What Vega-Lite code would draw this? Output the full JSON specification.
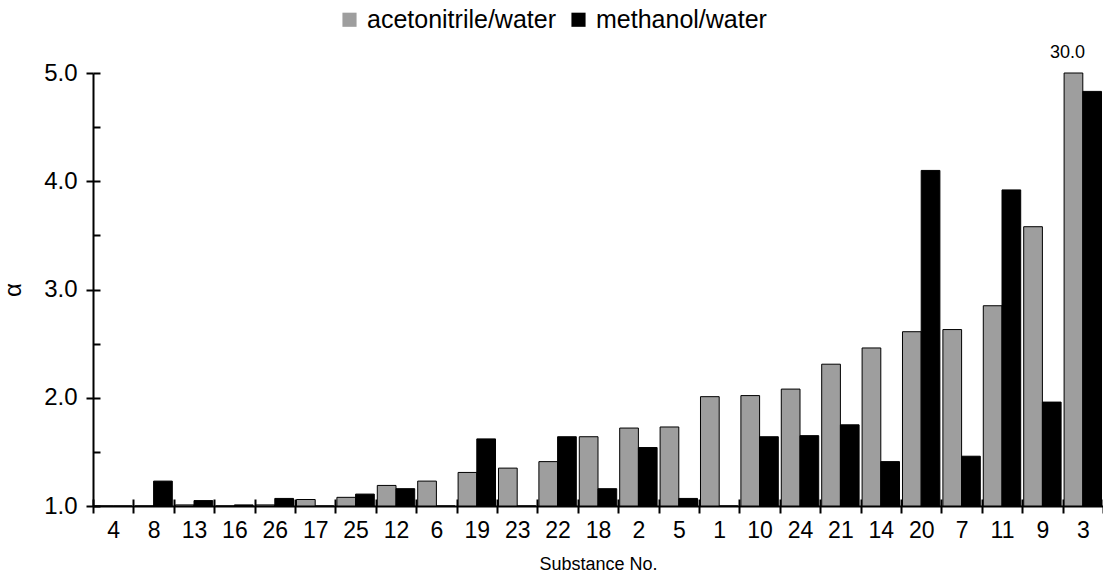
{
  "$schema": "https://vega.github.io/schema/vega-lite/v6.json",
  "width": 1010,
  "height": 433,
  "autosize": {"type": "none"},
  "padding": {"left": 93, "top": 73, "right": 0, "bottom": 76},
  "background": "white",
  "config": {
    "view": {"stroke": null},
    "font": "Liberation Sans",
    "axis": {"domainColor": "black", "tickColor": "black", "labelColor": "black", "titleColor": "black", "grid": false}
  },
  "data": {
    "values": [
      {"no": "4", "series": "acetonitrile/water", "alpha": 1.0},
      {"no": "4", "series": "methanol/water", "alpha": 1.0},
      {"no": "8", "series": "acetonitrile/water", "alpha": 1.0},
      {"no": "8", "series": "methanol/water", "alpha": 1.23},
      {"no": "13", "series": "acetonitrile/water", "alpha": 1.01},
      {"no": "13", "series": "methanol/water", "alpha": 1.05},
      {"no": "16", "series": "acetonitrile/water", "alpha": 1.0},
      {"no": "16", "series": "methanol/water", "alpha": 1.01},
      {"no": "26", "series": "acetonitrile/water", "alpha": 1.01},
      {"no": "26", "series": "methanol/water", "alpha": 1.07},
      {"no": "17", "series": "acetonitrile/water", "alpha": 1.06},
      {"no": "17", "series": "methanol/water", "alpha": 1.0},
      {"no": "25", "series": "acetonitrile/water", "alpha": 1.08},
      {"no": "25", "series": "methanol/water", "alpha": 1.11},
      {"no": "12", "series": "acetonitrile/water", "alpha": 1.19},
      {"no": "12", "series": "methanol/water", "alpha": 1.16},
      {"no": "6", "series": "acetonitrile/water", "alpha": 1.23},
      {"no": "6", "series": "methanol/water", "alpha": 1.0},
      {"no": "19", "series": "acetonitrile/water", "alpha": 1.31},
      {"no": "19", "series": "methanol/water", "alpha": 1.62},
      {"no": "23", "series": "acetonitrile/water", "alpha": 1.35},
      {"no": "23", "series": "methanol/water", "alpha": 1.0},
      {"no": "22", "series": "acetonitrile/water", "alpha": 1.41},
      {"no": "22", "series": "methanol/water", "alpha": 1.64},
      {"no": "18", "series": "acetonitrile/water", "alpha": 1.64},
      {"no": "18", "series": "methanol/water", "alpha": 1.16},
      {"no": "2", "series": "acetonitrile/water", "alpha": 1.72},
      {"no": "2", "series": "methanol/water", "alpha": 1.54},
      {"no": "5", "series": "acetonitrile/water", "alpha": 1.73},
      {"no": "5", "series": "methanol/water", "alpha": 1.07},
      {"no": "1", "series": "acetonitrile/water", "alpha": 2.01},
      {"no": "1", "series": "methanol/water", "alpha": 1.0},
      {"no": "10", "series": "acetonitrile/water", "alpha": 2.02},
      {"no": "10", "series": "methanol/water", "alpha": 1.64},
      {"no": "24", "series": "acetonitrile/water", "alpha": 2.08},
      {"no": "24", "series": "methanol/water", "alpha": 1.65},
      {"no": "21", "series": "acetonitrile/water", "alpha": 2.31},
      {"no": "21", "series": "methanol/water", "alpha": 1.75},
      {"no": "14", "series": "acetonitrile/water", "alpha": 2.46},
      {"no": "14", "series": "methanol/water", "alpha": 1.41},
      {"no": "20", "series": "acetonitrile/water", "alpha": 2.61},
      {"no": "20", "series": "methanol/water", "alpha": 4.1},
      {"no": "7", "series": "acetonitrile/water", "alpha": 2.63},
      {"no": "7", "series": "methanol/water", "alpha": 1.46},
      {"no": "11", "series": "acetonitrile/water", "alpha": 2.85},
      {"no": "11", "series": "methanol/water", "alpha": 3.92},
      {"no": "9", "series": "acetonitrile/water", "alpha": 3.58},
      {"no": "9", "series": "methanol/water", "alpha": 1.96},
      {"no": "3", "series": "acetonitrile/water", "alpha": 30.0},
      {"no": "3", "series": "methanol/water", "alpha": 4.83}
    ]
  },
  "layer": [
    {
      "mark": {"type": "bar", "stroke": "black", "strokeWidth": 1},
      "encoding": {
        "x": {
          "field": "no", "type": "nominal",
          "sort": ["4","8","13","16","26","17","25","12","6","19","23","22","18","2","5","1","10","24","21","14","20","7","11","9","3"],
          "scale": {"paddingInner": 0, "paddingOuter": 0},
          "axis": {"orient": "bottom", "title": "Substance No.", "labelAngle": 0, "tickBand": "extent", "tickSize": 7, "tickWidth": 2, "domainWidth": 2, "labelFontSize": 23, "labelPadding": 6, "titleFontSize": 18, "titleFontWeight": "normal", "titlePadding": 13}
        },
        "xOffset": {"field": "series", "type": "nominal", "scale": {"paddingOuter": 0.08, "paddingInner": 0}},
        "y": {
          "field": "alpha", "type": "quantitative",
          "scale": {"domain": [1, 5], "clamp": true, "nice": false, "zero": false},
          "axis": {"orient": "left", "title": "α", "values": [1, 2, 3, 4, 5], "format": ".1f", "tickSize": 7, "tickWidth": 2, "domainWidth": 2, "labelFontSize": 24, "labelPadding": 9, "titleFontSize": 24, "titleFontWeight": "normal", "titlePadding": 18}
        },
        "y2": {"datum": 1},
        "color": {
          "field": "series", "type": "nominal",
          "scale": {"domain": ["acetonitrile/water", "methanol/water"], "range": ["#9e9e9e", "black"]},
          "legend": {"orient": "none", "legendX": 244, "legendY": -66, "direction": "horizontal", "title": null, "symbolType": "square", "symbolSize": 200, "symbolStrokeWidth": 0, "labelFontSize": 25, "labelOffset": 5, "labelLimit": 0, "columnPadding": 10, "padding": 0, "labelColor": "black"}
        }
      }
    },
    {
      "transform": [{"filter": "datum.alpha > 5"}],
      "mark": {"type": "text", "fontSize": 18, "baseline": "alphabetic", "dy": -15, "dx": -6, "color": "black"},
      "encoding": {
        "x": {
          "field": "no", "type": "nominal",
          "sort": ["4","8","13","16","26","17","25","12","6","19","23","22","18","2","5","1","10","24","21","14","20","7","11","9","3"],
          "axis": {"orient": "bottom", "title": null, "labels": false, "domain": false, "tickBand": "extent", "tickSize": -7, "tickWidth": 2}
        },
        "xOffset": {"field": "series", "type": "nominal"},
        "y": {
          "field": "alpha", "type": "quantitative",
          "axis": {"orient": "left", "title": null, "labels": false, "domain": false, "values": [1, 1.5, 2, 2.5, 3, 3.5, 4, 4.5, 5], "tickSize": -7, "tickWidth": 2}
        },
        "text": {"field": "alpha", "type": "quantitative", "format": ".1f"}
      }
    }
  ],
  "resolve": {"axis": {"x": "independent", "y": "independent"}}
}
